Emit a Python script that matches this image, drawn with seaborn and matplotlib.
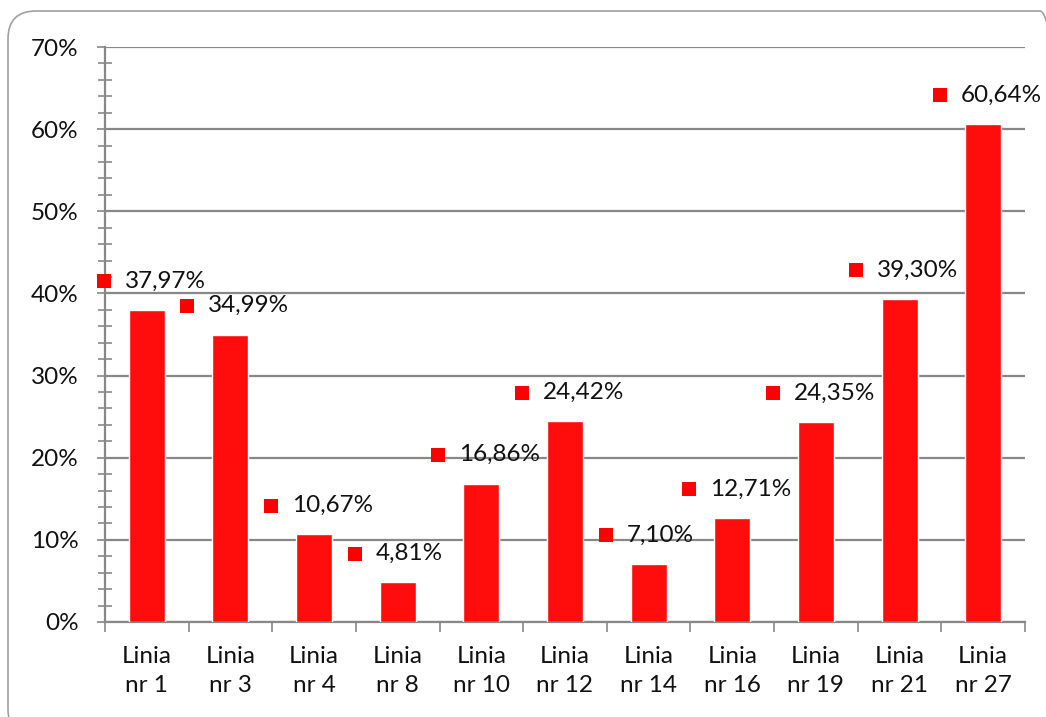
import matplotlib
matplotlib.use("Agg")
import matplotlib.pyplot as plt
import matplotlib.patches as mpatches
import matplotlib.ticker as mticker
import seaborn as sns
import pandas as pd
import numpy as np

# Data
lines = ["Linia\nnr 1", "Linia\nnr 3", "Linia\nnr 4", "Linia\nnr 8", "Linia\nnr 10",
         "Linia\nnr 12", "Linia\nnr 14", "Linia\nnr 16", "Linia\nnr 19", "Linia\nnr 21",
         "Linia\nnr 27"]
shares = [37.97, 34.99, 10.67, 4.81, 16.86, 24.42, 7.10, 12.71, 24.35, 39.30, 60.64]
y_ticks = [0, 10, 20, 30, 40, 50, 60, 70]

df = pd.DataFrame({"line": lines, "share": shares})

sns.set_style("white")
plt.rcParams["font.family"] = ["Lato", "DejaVu Sans"]

grid_col = "#878787"
bar_col = "#FF0C0C"

fig = plt.figure(figsize=(10.46, 7.17), dpi=100)
ax = fig.add_axes([105 / 1046, 1 - 622 / 717, 920 / 1046, 575 / 717])

sns.barplot(data=df, x="line", y="share", color=bar_col, width=0.43,
            saturation=1, ax=ax, zorder=3)

ax.set_ylim(0, 70)
ax.set_xlim(-0.5, len(lines) - 0.5)
ax.set_yticks(y_ticks)
ax.set_yticklabels([f"{t}%" for t in y_ticks])
ax.yaxis.set_minor_locator(mticker.MultipleLocator(2))
ax.set_xticks(range(len(lines)))
ax.set_xticklabels(lines, linespacing=1.5)
ax.set_xticks(np.arange(len(lines) + 1) - 0.5, minor=True)
ax.set_xlabel("")
ax.set_ylabel("")

ax.yaxis.grid(True, color=grid_col, lw=1.6, zorder=0)
ax.set_axisbelow(True)
for s in ["top", "right"]:
    ax.spines[s].set_visible(False)
for s in ["left", "bottom"]:
    ax.spines[s].set_color(grid_col)
    ax.spines[s].set_linewidth(1.6)

ax.tick_params(axis="y", which="major", direction="out", length=6, width=1.2,
               color=grid_col, labelsize=17.5, pad=13, left=True, labelcolor="#111111")
ax.tick_params(axis="y", which="minor", direction="inout", length=10, width=1.2,
               color=grid_col, left=True)
ax.tick_params(axis="x", which="major", direction="in", length=6, width=1.2,
               color=grid_col, labelsize=17.5, pad=17, bottom=True, labelcolor="#111111")
ax.tick_params(axis="x", which="minor", direction="out", length=7, width=1.2,
               color=grid_col, bottom=True)

# data labels with legend key, placed up-left of each bar like in Excel
for i, v in enumerate(shares):
    ax.scatter(i - 0.515, v + 3.5, marker="s", s=115, color="#FF0000",
               linewidths=0, clip_on=False, zorder=5)
    ax.text(i - 0.265, v + 3.5, f"{v:.2f}%".replace(".", ","), fontsize=17.5,
            ha="left", va="center", color="#111111", zorder=5)

# rounded chart border
border = mpatches.FancyBboxPatch((0.08, -0.2), 10.6, 7.26,
                                 boxstyle="round,pad=0,rounding_size=0.28",
                                 transform=fig.dpi_scale_trans, fill=False,
                                 edgecolor="#A0A0A0", lw=1.2)
fig.patches.append(border)

fig.savefig("out.png", dpi=100)
